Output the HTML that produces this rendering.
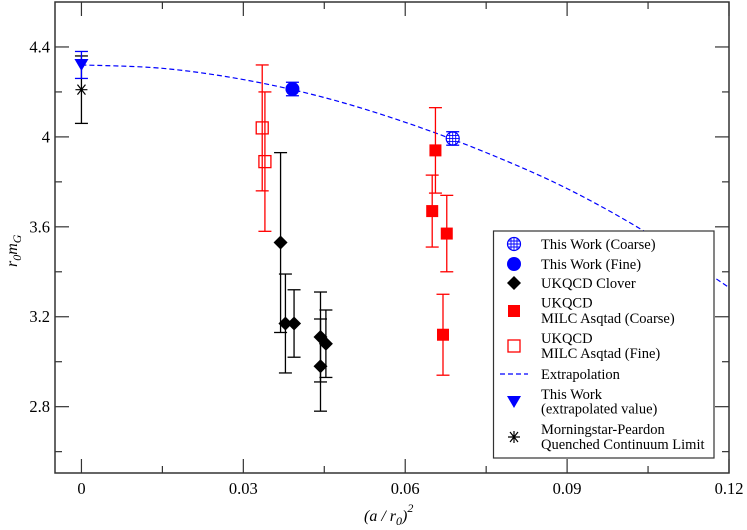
<!DOCTYPE html>
<html><head><meta charset="utf-8"><style>
body{margin:0;background:#fff;}
svg{display:block;}
svg text{font-family:"Liberation Serif","Times New Roman",serif;}
</style></head><body>
<svg id="c" width="747" height="530" xmlns="http://www.w3.org/2000/svg">
<g id="plot"></g>
<g font-size="14.5">
<rect x="493.5" y="231" width="220.5" height="227" fill="#fff" stroke="#333" stroke-width="1.2"/>
<g><circle cx="514" cy="244" r="6.5" fill="#fff" stroke="#00f" stroke-width="1.2"/><path d="M507.5,244H520.5M514,237.5V250.5M508.5,241H519.5M508.5,247H519.5M511,238.5V249.5M517,238.5V249.5" stroke="#00f" stroke-width="0.9"/><text x="541" y="249">This Work (Coarse)</text></g>
<g><circle cx="514" cy="264" r="7" fill="#00f"/><text x="541" y="269">This Work (Fine)</text></g>
<g><path d="M514,276L521,283L514,290L507,283Z" fill="#000"/><text x="541" y="288">UKQCD Clover</text></g>
<g><rect x="508" y="305" width="12" height="12" fill="#f00"/><text x="541" y="307.5">UKQCD</text><text x="541" y="323">MILC Asqtad (Coarse)</text></g>
<g><rect x="508" y="340" width="12" height="12" fill="none" stroke="#f00" stroke-width="1.3"/><text x="541" y="343">UKQCD</text><text x="541" y="358">MILC Asqtad (Fine)</text></g>
<g><line x1="500" x2="528" y1="374" y2="374" stroke="#00f" stroke-width="1.2" stroke-dasharray="5,3"/><text x="541" y="379">Extrapolation</text></g>
<g><path d="M507,396L521,396L514,408Z" fill="#00f"/><text x="541" y="399">This Work</text><text x="541" y="413.5"> (extrapolated value)</text></g>
<g><path d="M508,437H520M510,432L518,442M510,442L518,432M514,431V443" stroke="#000" stroke-width="1.2"/><text x="541" y="434">Morningstar-Peardon</text><text x="541" y="449">Quenched Continuum Limit</text></g>
</g>
<text x="364" y="521" font-size="16" font-style="italic">(a / r<tspan font-size="12" dy="4">0</tspan><tspan dy="-4">)</tspan><tspan font-size="12" dy="-9">2</tspan></text>
<text transform="translate(17,267) rotate(-90)" font-size="16" font-style="italic">r<tspan font-size="12" dy="4">0</tspan><tspan dy="-4">m</tspan><tspan font-size="12" dy="4">G</tspan></text>
</svg>
<script>
const xTicks=[0,0.03,0.06,0.09,0.12];
const xTickLabels=["0","0.03","0.06","0.09","0.12"];
const yTicks=[2.8,3.2,3.6,4.0,4.4];
const yTickLabels=["2.8","3.2","3.6","4","4.4"];
const coarseX=[0.0688];const coarseY=[3.993];const coarseLo=[3.963];const coarseHi=[4.023];
const fineX=[0.0391];const fineY=[4.213];const fineLo=[4.183];const fineHi=[4.243];
const cloverX=[0.0369,0.0378,0.0394,0.0443,0.0453,0.0443];
const cloverY=[3.53,3.17,3.17,3.11,3.08,2.98];
const cloverLo=[3.13,2.95,3.02,2.91,2.93,2.78];
const cloverHi=[3.93,3.39,3.32,3.31,3.23,3.19];
const milcCX=[0.0656,0.0650,0.0677,0.0670];
const milcCY=[3.94,3.67,3.57,3.12];
const milcCLo=[3.75,3.51,3.40,2.94];
const milcCHi=[4.13,3.83,3.74,3.30];
const milcFX=[0.0335,0.0340];
const milcFY=[4.04,3.89];
const milcFLo=[3.76,3.58];
const milcFHi=[4.32,4.20];
const extX=[0,0.015,0.03,0.045,0.06,0.075,0.09,0.105,0.12];
const extY=[4.32,4.305,4.255,4.175,4.065,3.93,3.77,3.57,3.33];
const triX=[0];const triY=[4.32];const triLo=[4.26];const triHi=[4.38];
const starX=[0];const starY=[4.21];const starLo=[4.06];const starHi=[4.36];

const L=55,R=729,T=2,B=473,X0=-0.0049,X1=0.12,Y0=2.505,Y1=4.6;
const sx=v=>L+(v-X0)/(X1-X0)*(R-L);
const sy=v=>B-(v-Y0)/(Y1-Y0)*(B-T);
const root=document.getElementById('plot');
const NS='http://www.w3.org/2000/svg';
function mk(tag,a,name){const e=document.createElementNS(NS,tag);for(const k in a)e.setAttribute(k,a[k]);


root.appendChild(e);return e;}
mk('rect',{x:L,y:T,width:R-L,height:B-T,fill:'none',stroke:'#333','stroke-width':1.5},'plot-frame');
for(let i=0;i<xTicks.length;i++){const x=sx(xTicks[i]);
mk('line',{x1:x,x2:x,y1:B,y2:B-14,stroke:'#333','stroke-width':1.2},'x-tick');
mk('line',{x1:x,x2:x,y1:T,y2:T+14,stroke:'#333','stroke-width':1.2},'x-tick-top');
const t=mk('text',{x:x,y:B+21,'text-anchor':'middle','font-size':16.5},'x-tick-label');t.textContent=xTickLabels[i];
if(i<xTicks.length-1){const m=sx((xTicks[i]+xTicks[i+1])/2);
mk('line',{x1:m,x2:m,y1:B,y2:B-7,stroke:'#333','stroke-width':1.2},'x-minor-tick');
mk('line',{x1:m,x2:m,y1:T,y2:T+7,stroke:'#333','stroke-width':1.2},'x-minor-tick-top');}}
for(let i=0;i<yTicks.length;i++){const y=sy(yTicks[i]);
mk('line',{x1:L,x2:L+14,y1:y,y2:y,stroke:'#333','stroke-width':1.2},'y-tick');
mk('line',{x1:R,x2:R-14,y1:y,y2:y,stroke:'#333','stroke-width':1.2},'y-tick-right');
const t=mk('text',{x:L-5,y:y+5.5,'text-anchor':'end','font-size':16.5},'y-tick-label');t.textContent=yTickLabels[i];}
for(let v=2.6;v<4.6;v+=0.4){const y=sy(v);
mk('line',{x1:L,x2:L+7,y1:y,y2:y,stroke:'#333','stroke-width':1.2},'y-minor-tick');
mk('line',{x1:R,x2:R-7,y1:y,y2:y,stroke:'#333','stroke-width':1.2},'y-minor-tick-right');}
const P=extX.map((x,i)=>[sx(x),sy(extY[i])]);
let d='M'+P[0][0]+','+P[0][1];
for(let i=0;i<P.length-1;i++){const p0=P[Math.max(0,i-1)],p1=P[i],p2=P[i+1],p3=P[Math.min(P.length-1,i+2)];
d+=`C${p1[0]+(p2[0]-p0[0])/6},${p1[1]+(p2[1]-p0[1])/6} ${p2[0]-(p3[0]-p1[0])/6},${p2[1]-(p3[1]-p1[1])/6} ${p2[0]},${p2[1]}`;}
mk('path',{d:d,fill:'none',stroke:'#0000ff','stroke-width':1.2,'stroke-dasharray':'5,3'},'extrapolation-line');
function err(x,lo,hi,col,name){const px=sx(x);
mk('line',{x1:px,x2:px,y1:sy(lo),y2:sy(hi),stroke:col,'stroke-width':1.3},name+'-errorbar');
mk('line',{x1:px-6.5,x2:px+6.5,y1:sy(lo),y2:sy(lo),stroke:col,'stroke-width':1.3},name+'-cap');
mk('line',{x1:px-6.5,x2:px+6.5,y1:sy(hi),y2:sy(hi),stroke:col,'stroke-width':1.3},name+'-cap');}
for(let i=0;i<milcFX.length;i++){err(milcFX[i],milcFLo[i],milcFHi[i],'#ff0000','milc-fine');
mk('rect',{x:sx(milcFX[i])-6,y:sy(milcFY[i])-6,width:12,height:12,fill:'none',stroke:'#ff0000','stroke-width':1.3},'milc-fine-point');}
for(let i=0;i<cloverX.length;i++){err(cloverX[i],cloverLo[i],cloverHi[i],'#000','clover');
const x=sx(cloverX[i]),y=sy(cloverY[i]);
mk('path',{d:`M${x},${y-7}L${x+7},${y}L${x},${y+7}L${x-7},${y}Z`,fill:'#000'},'clover-point');}
for(let i=0;i<milcCX.length;i++){err(milcCX[i],milcCLo[i],milcCHi[i],'#ff0000','milc-coarse');
mk('rect',{x:sx(milcCX[i])-6,y:sy(milcCY[i])-6,width:12,height:12,fill:'#ff0000'},'milc-coarse-point');}
for(let i=0;i<fineX.length;i++){err(fineX[i],fineLo[i],fineHi[i],'#0000ff','fine');
mk('circle',{cx:sx(fineX[i]),cy:sy(fineY[i]),r:7,fill:'#0000ff'},'fine-point');}
for(let i=0;i<coarseX.length;i++){err(coarseX[i],coarseLo[i],coarseHi[i],'#0000ff','coarse');
const x=sx(coarseX[i]),y=sy(coarseY[i]);
mk('circle',{cx:x,cy:y,r:6.5,fill:'#fff',stroke:'#0000ff','stroke-width':1.2},'coarse-point');
mk('path',{d:`M${x-6.5},${y}H${x+6.5}M${x},${y-6.5}V${y+6.5}M${x-5.5},${y-3}H${x+5.5}M${x-5.5},${y+3}H${x+5.5}M${x-3},${y-5.5}V${y+5.5}M${x+3},${y-5.5}V${y+5.5}`,stroke:'#0000ff','stroke-width':0.9},'coarse-point-grid');}
for(let i=0;i<starX.length;i++){err(starX[i],starLo[i],starHi[i],'#000','star');
const x=sx(starX[i]),y=sy(starY[i]);
mk('path',{d:`M${x-6},${y}H${x+6}M${x-4},${y-5}L${x+4},${y+5}M${x-4},${y+5}L${x+4},${y-5}`,stroke:'#000','stroke-width':1.2},'morningstar-point');}
for(let i=0;i<triX.length;i++){err(triX[i],triLo[i],triHi[i],'#0000ff','extrapolated');
const x=sx(triX[i]),y=sy(triY[i]);
mk('path',{d:`M${x-7},${y-6}L${x+7},${y-6}L${x},${y+6}Z`,fill:'#0000ff'},'extrapolated-point');}
</script>
</body></html>
